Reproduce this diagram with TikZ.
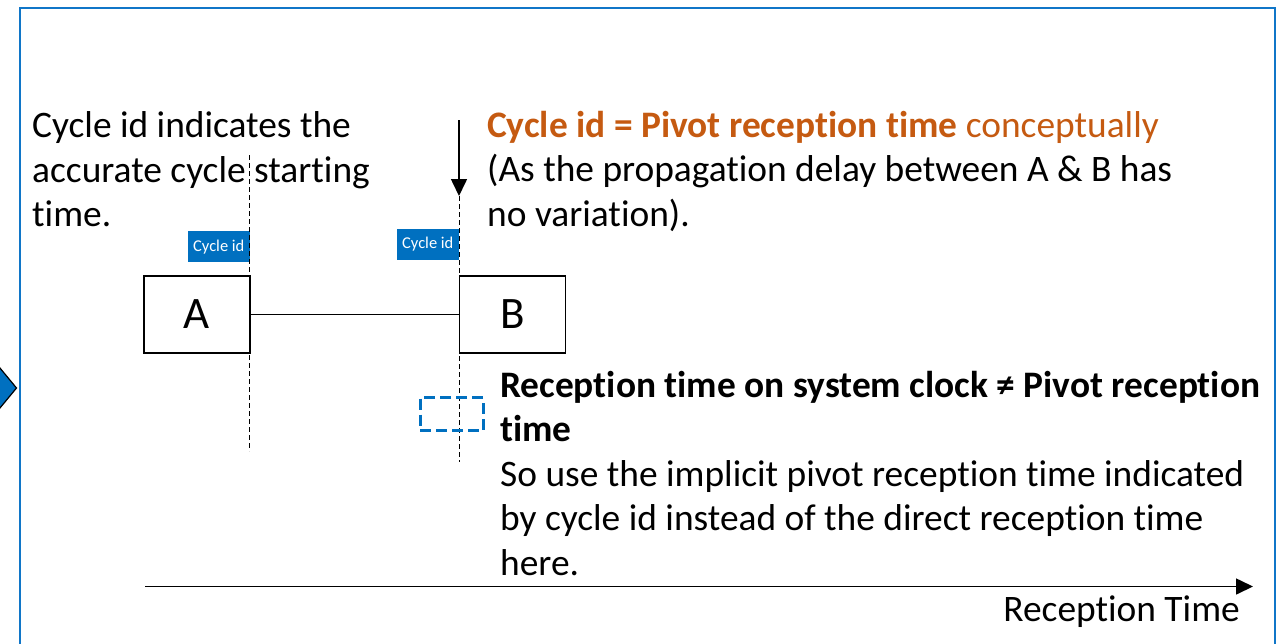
\documentclass[tikz,border=0pt]{standalone}
\usepackage{fontspec}
\setmainfont{Carlito}[Ligatures={NoCommon}]
\usetikzlibrary{arrows.meta}
\definecolor{msblue}{RGB}{0,112,192}
\definecolor{frameblue}{RGB}{16,118,200}
\definecolor{msorange}{RGB}{197,90,17}
\tikzset{
  body/.style={anchor=base west, inner sep=0pt, font=\fontsize{37.4}{44}\selectfont},
  bodybold/.style={body, font=\fontsize{37.4}{44}\selectfont\bfseries},
  station/.style={draw, line width=1.8pt, minimum width=106pt, minimum height=77pt, inner sep=0pt, font=\fontsize{45}{50}\selectfont},
  tag/.style={fill=msblue, text=white, inner sep=0pt, minimum width=62pt, minimum height=31pt, font=\fontsize{16.5}{18}\selectfont},
  marker/.style={dashed, dash pattern=on 5pt off 3pt, line width=1pt},
}
\begin{document}
\begin{tikzpicture}[x=1pt,y=-1pt]
\useasboundingbox (0,0) rectangle (1276,643);
% frame
\draw[frameblue, line width=2.8pt] (20,680) -- (20,8) -- (1275,8) -- (1275,680);
% chevron at the left edge
\draw[fill=msblue, line width=1.2pt] (-5,362) -- (16.5,388) -- (-5,414);

% left caption
\node[body] (cap1) at (32,137.5) {Cycle id indicates the};
\node[body] (cap2) at (32,182) {accurate cycle starting};
\node[body] (cap3) at (32,226.5) {time.};

% stations
\node[station] (A) at (197,314.5) {A};
\node[station] (B) at (512.5,314.5) {B};
\draw[line width=1.2pt] (A.east) -- (B.west);

% cycle id tags
\node[tag, anchor=north east] (tagA) at (250,231) {Cycle id};
\node[tag, anchor=north east] (tagB) at (459,228.5) {Cycle id};

% cycle markers
\coordinate (mA1) at (249.5,155);
\coordinate (mA2) at (249.5,451);
\coordinate (mB1) at (459,196);
\coordinate (mB2) at (459,462);
\draw[marker] (mA1) -- (mA2);
\draw[marker] (mB1) -- (mB2);

% pivot arrow
\coordinate (pv) at (459,120);
\draw[line width=1.6pt, -{Triangle[length=17pt,width=16pt]}] (pv) -- (mB1);

% pivot note
\node[body, text=msorange] (pv1) at (487,137) {\textbf{Cycle id = Pivot reception time} conceptually};
\node[body] (pv2) at (487,181.5) {(As the propagation delay between A \& B has};
\node[body] (pv3) at (487,226) {no variation).};

% direct reception marker
\node[draw=msblue, dashed, dash pattern=on 11pt off 5pt, line width=3pt, minimum width=63pt, minimum height=33pt, inner sep=0pt] (rx) at (451.5,414) {};

% reception note
\node[bodybold] (rn1) at (500,397) {Reception time on system clock ≠ Pivot reception};
\node[bodybold] (rn2) at (500,441.5) {time};
\node[body] (rn3) at (500,486) {So use the implicit pivot reception time indicated};
\node[body] (rn4) at (500,530.5) {by cycle id instead of the direct reception time};
\node[body] (rn5) at (500,575) {here.};

% time axis
\coordinate (t0) at (145,586.5);
\coordinate (t1) at (1253,586.5);
\draw[line width=1.6pt, -{Triangle[length=17pt,width=16pt]}] (t0) -- (t1);
\node[body, anchor=base east] (tl) at (1240,621) {Reception Time};
\end{tikzpicture}
\end{document}
